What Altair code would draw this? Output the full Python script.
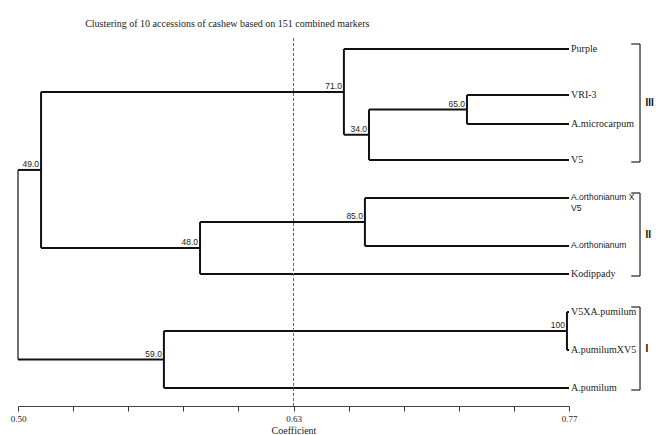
import altair as alt
import pandas as pd

# ---------------- data ----------------
leaves = ["Purple", "VRI-3", "A.microcarpum", "V5", "A.orthonianum X\nV5",
          "A.orthonianum", "Kodippady", "V5XA.pumilum", "A.pumilumXV5", "A.pumilum"]
leaf_row = [49, 95, 124, 160, 198, 246, 274, 312, 350, 388]   # vertical order of leaves
leaf_font = ["serif", "serif", "serif", "serif", "sans", "sans", "serif", "serif", "serif", "serif"]
leaf_coef = 0.77

merge_name = ["n65", "n34", "n71", "n85", "n48", "n49", "n100", "n59", "root"]
merge_left = ["VRI-3", "n65", "Purple", "A.orthonianum X\nV5", "n85", "n71", "V5XA.pumilum", "n100", "n49"]
merge_right = ["A.microcarpum", "V5", "n34", "A.orthonianum", "Kodippady", "n48", "A.pumilumXV5", "A.pumilum", "n59"]
merge_coef = [0.720, 0.672, 0.6597, 0.670, 0.5892, 0.5113, 0.769, 0.5715, 0.50]
merge_support = ["65.0", "34.0", "71.0", "85.0", "48.0", "49.0", "100", "59.0", ""]

groups = ["III", "II", "I"]
group_first = ["Purple", "A.orthonianum X\nV5", "V5XA.pumilum"]
group_last = ["V5", "Kodippady", "A.pumilum"]

tick_values = [0.5 + i * 0.0135 for i in range(21)]
tick_labels = ["0.50", "0.57", "0.63", "0.70", "0.77"]
cutoff = 0.635

title = "Clustering of 10 accessions of cashew based on 151 combined markers"

# ---------------- build tree geometry ----------------
pos = {name: (leaf_coef, r) for name, r in zip(leaves, leaf_row)}
for n, l, r, c in zip(merge_name, merge_left, merge_right, merge_coef):
    pos[n] = (c, (pos[l][1] + pos[r][1]) / 2)

segs = []
for n, l, r, c in zip(merge_name, merge_left, merge_right, merge_coef):
    w = 1.2 if n == "root" else 2.0
    segs.append(dict(x=c, x2=c, y=pos[l][1], y2=pos[r][1], w=w))
    for ch in (l, r):
        segs.append(dict(x=c, x2=pos[ch][0], y=pos[ch][1], y2=pos[ch][1], w=2.0))
seg_df = pd.DataFrame(segs)

sup_df = pd.DataFrame([dict(x=pos[n][0], y=pos[n][1], t=s)
                       for n, s in zip(merge_name, merge_support) if s])

leaf_df = pd.DataFrame(dict(x=[leaf_coef] * len(leaves), y=leaf_row, t=leaves, f=leaf_font))

br = []
lab = []
for g, a, b in zip(groups, group_first, group_last):
    top = pos[a][1] - 5
    bot = pos[b][1] + 2
    br.append(dict(x=0.8048, x2=0.8048, y=top, y2=bot))
    br.append(dict(x=0.8005, x2=0.8048, y=top, y2=top))
    br.append(dict(x=0.8005, x2=0.8048, y=bot, y2=bot))
    lab.append(dict(x=0.8075, y=(top + bot) / 2, t=g))
br_df = pd.DataFrame(br)
lab_df = pd.DataFrame(lab)

# ---------------- scales ----------------
xs = alt.Scale(domain=[0.50, 0.77], nice=False, zero=False)
ys = alt.Scale(domain=[35, 406], reverse=True, nice=False, zero=False)

label_expr = ("round(datum.index*20)%5!=0 ? '' : " +
              " : ".join(f"round(datum.index*4)=={i} ? '{t}'" for i, t in enumerate(tick_labels[:-1]))
              + f" : '{tick_labels[-1]}'")

x_axis = alt.Axis(values=tick_values, labelExpr=label_expr, title="Coefficient",
                  grid=False, domainColor="#444", domainWidth=1.2, tickColor="#333",
                  tickSize=5, labelFont="Liberation Serif", labelFontSize=9, labelColor="#222",
                  titleFont="Liberation Serif", titleFontSize=10, titleFontWeight="normal",
                  titleColor="#222", labelPadding=3, titlePadding=2, labelFlush=False)

segments = alt.Chart(seg_df).mark_rule(color="#111").encode(
    x=alt.X("x:Q", scale=xs, axis=x_axis),
    x2="x2:Q",
    y=alt.Y("y:Q", scale=ys, axis=None),
    y2="y2:Q",
    strokeWidth=alt.StrokeWidth("w:Q", scale=None, legend=None),
)

cut_df = pd.DataFrame(dict(x=[cutoff], y=[38], y2=[406]))
cut = alt.Chart(cut_df).mark_rule(color="#666", strokeDash=[3, 2], strokeWidth=1).encode(
    x=alt.X("x:Q", scale=xs), y=alt.Y("y:Q", scale=ys), y2="y2:Q")

support = alt.Chart(sup_df).mark_text(align="right", baseline="bottom", dx=-2, dy=-1,
                                      font="Liberation Sans", fontSize=8.5, color="#222").encode(
    x=alt.X("x:Q", scale=xs), y=alt.Y("y:Q", scale=ys), text="t:N")

leaf_serif = alt.Chart(leaf_df[leaf_df.f == "serif"]).mark_text(
    align="left", baseline="middle", dx=2, font="Liberation Serif", fontSize=10,
    color="#222", lineBreak="\n").encode(
    x=alt.X("x:Q", scale=xs), y=alt.Y("y:Q", scale=ys), text="t:N")

leaf_sans = alt.Chart(leaf_df[leaf_df.f == "sans"]).mark_text(
    align="left", baseline="top", dx=2, dy=-5, font="Liberation Sans", fontSize=8.5,
    color="#222", lineBreak="\n", lineHeight=11).encode(
    x=alt.X("x:Q", scale=xs), y=alt.Y("y:Q", scale=ys), text="t:N")

brackets = alt.Chart(br_df).mark_rule(color="#222", strokeWidth=1.2).encode(
    x=alt.X("x:Q", scale=xs), x2="x2:Q", y=alt.Y("y:Q", scale=ys), y2="y2:Q")

glabels = alt.Chart(lab_df).mark_text(align="left", baseline="middle", font="Liberation Sans",
                                      fontSize=10, fontWeight="bold", color="#111").encode(
    x=alt.X("x:Q", scale=xs), y=alt.Y("y:Q", scale=ys), text="t:N")

chart = alt.layer(segments, cut, support, leaf_serif, leaf_sans, brackets, glabels).properties(
    width=551, height=371,
    title=alt.TitleParams(title, anchor="start", dx=75, offset=6, font="Liberation Serif",
                          fontSize=10, fontWeight="normal", color="#222"),
    autosize=alt.AutoSizeParams(type="none"),
    padding={"left": 10, "top": 27, "right": 86, "bottom": 29},
).configure(background="white").configure_view(stroke=None)

chart.save("out.html", embed_options={"renderer": "svg", "actions": False})
